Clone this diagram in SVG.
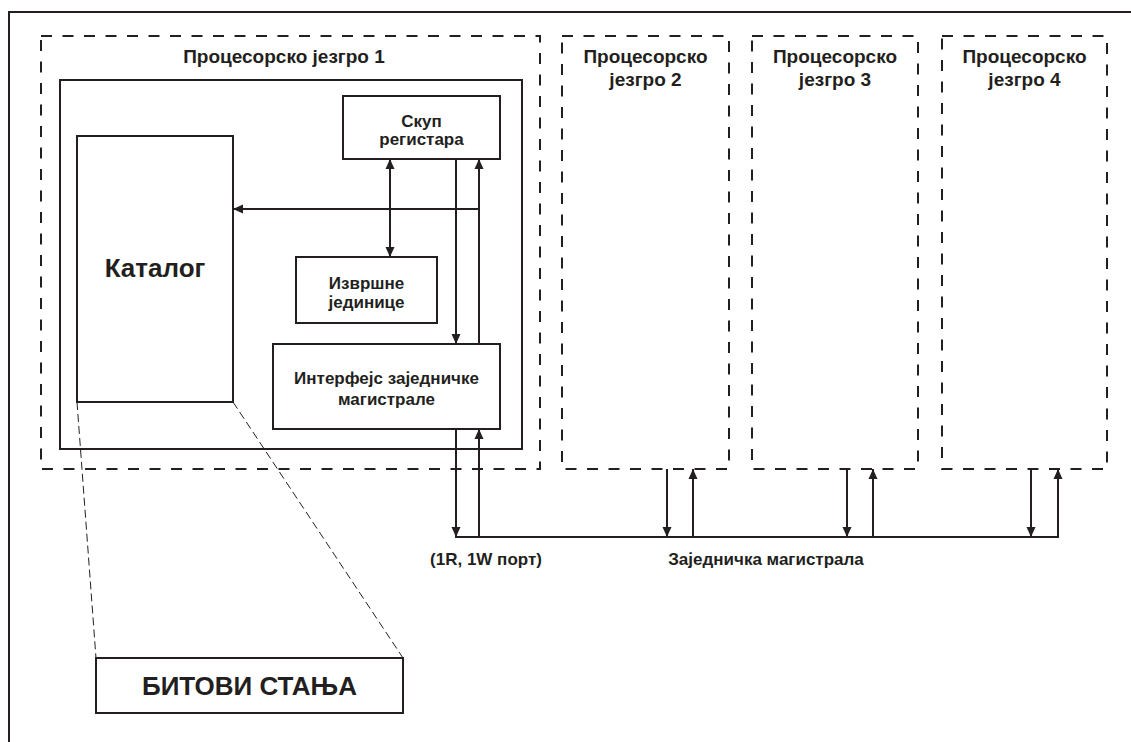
<svg xmlns="http://www.w3.org/2000/svg" width="1131" height="742" viewBox="0 0 1131 742">
<defs>
<marker id="ah" viewBox="0 0 10 10" refX="10" refY="5" markerWidth="10" markerHeight="10" markerUnits="userSpaceOnUse" orient="auto-start-reverse">
<path d="M0,0.5 L10,5 L0,9.5 z" fill="#231f20"/>
</marker>
</defs>
<style>
.box{fill:#fff;stroke:#231f20;stroke-width:2}
.dash{fill:none;stroke:#231f20;stroke-width:2;stroke-dasharray:11 10.5}
.ln{fill:none;stroke:#231f20;stroke-width:2}
.ar{fill:none;stroke:#231f20;stroke-width:2;marker-end:url(#ah)}
.zoom{fill:none;stroke:#231f20;stroke-width:1;stroke-dasharray:8 4}
text{font-family:"Liberation Sans",Arial,sans-serif;font-weight:bold;fill:#231f20;text-anchor:middle}
.t{font-size:19px}
.s{font-size:17px}
.b{font-size:26px}
</style>
<rect width="1131" height="742" fill="#fff"/>
<rect id="frame" x="9" y="12" width="1200" height="800" fill="none" stroke="#231f20" stroke-width="2"/>

<g id="core1">
<rect class="dash" x="41" y="36" width="499" height="433"/>
<text class="t" x="284" y="63">Процесорско језгро 1</text>
<rect class="box" x="60" y="80" width="462" height="369"/>
</g>
<g id="katalog">
<rect class="box" x="77" y="136" width="156" height="266"/>
<text class="b" x="155" y="277">Каталог</text>
</g>
<g id="registri">
<rect class="box" x="343" y="96" width="157" height="63"/>
<text class="s" x="421.5" y="127">Скуп</text>
<text class="s" x="421.5" y="145">регистара</text>
</g>
<g id="izvrsne">
<rect class="box" x="296" y="257" width="141" height="66"/>
<text class="s" x="366.5" y="289">Извршне</text>
<text class="s" x="366.5" y="308">јединице</text>
</g>
<g id="interfejs">
<rect class="box" x="273" y="344" width="227" height="85"/>
<text class="s" x="386.5" y="384">Интерфејс заједничке</text>
<text class="s" x="386.5" y="405">магистрале</text>
</g>
<g id="core2">
<rect class="dash" x="562" y="36" width="167" height="433"/>
<text class="t" x="645.5" y="63">Процесорско</text>
<text class="t" x="645.5" y="86">језгро 2</text>
</g>
<g id="core3">
<rect class="dash" x="752" y="36" width="166" height="433"/>
<text class="t" x="835" y="63">Процесорско</text>
<text class="t" x="835" y="86">језгро 3</text>
</g>
<g id="core4">
<rect class="dash" x="942" y="36" width="165" height="433"/>
<text class="t" x="1024.5" y="63">Процесорско</text>
<text class="t" x="1024.5" y="86">језгро 4</text>
</g>
<g id="bitovi">
<rect class="box" x="96" y="658" width="307" height="55"/>
<text class="b" x="249.5" y="695">БИТОВИ СТАЊА</text>
</g>

<g id="connectors">
<line class="ar" x1="456" y1="159" x2="456" y2="344"/>
<line class="ar" x1="479" y1="344" x2="479" y2="159"/>
<line class="ar" x1="479" y1="209" x2="233" y2="209"/>
<line class="ar" x1="390" y1="159" x2="390" y2="257" style="marker-start:url(#ah)"/>
<line class="ar" x1="456" y1="429" x2="456" y2="537"/>
<line class="ar" x1="479" y1="537" x2="479" y2="429"/>
<line class="ln" x1="455" y1="537" x2="1059" y2="537"/>
<line class="ar" x1="667" y1="469" x2="667" y2="537"/>
<line class="ar" x1="693" y1="537" x2="693" y2="469"/>
<line class="ar" x1="847" y1="469" x2="847" y2="537"/>
<line class="ar" x1="873" y1="537" x2="873" y2="469"/>
<line class="ar" x1="1031" y1="469" x2="1031" y2="537"/>
<line class="ar" x1="1058" y1="537" x2="1058" y2="469"/>
<line class="zoom" x1="77" y1="402" x2="96" y2="658"/>
<line class="zoom" x1="233" y1="402" x2="403" y2="658"/>
</g>
<text class="s" x="486" y="565">(1R, 1W порт)</text>
<text class="s" x="766" y="565">Заједничка магистрала</text>
</svg>
